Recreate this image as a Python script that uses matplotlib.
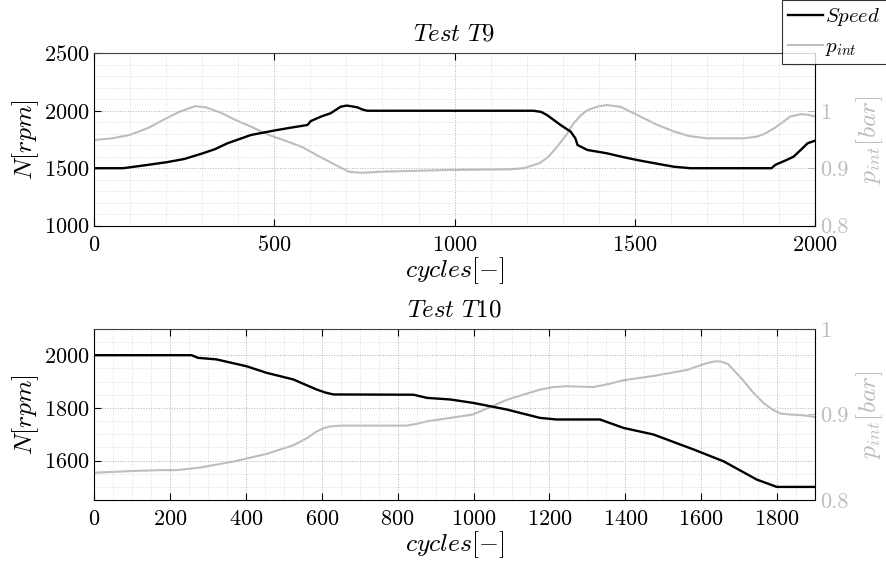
#!/usr/bin/env python3
"""Speed and intake pressure for tests T9 and T10"""
import matplotlib
matplotlib.use("Agg")
import matplotlib.pyplot as plt
from matplotlib.ticker import MultipleLocator

plt.rcParams["font.family"] = "serif"
plt.rcParams["font.serif"] = ["cmr10", "DejaVu Serif"]
plt.rcParams["mathtext.fontset"] = "cm"
plt.rcParams["axes.formatter.use_mathtext"] = True

GRAY = "#bdbdbd"

# Test T9
t9_speed_c = [0, 81, 140, 201, 250, 296, 335, 370, 400, 435, 470, 509, 550, 592, 601,
              630, 656, 684, 700, 712, 730, 745, 758, 1000, 1219, 1240, 1256, 1275,
              1294, 1322, 1335, 1341, 1368, 1422, 1470, 1515, 1560, 1608, 1654, 1879,
              1890, 1921, 1940, 1960, 1979, 2000]
t9_speed = [1500, 1500, 1525, 1552, 1580, 1624, 1665, 1717, 1750, 1789, 1810, 1833,
            1855, 1876, 1910, 1950, 1978, 2035, 2045, 2040, 2030, 2010, 2000, 2000,
            2000, 1990, 1963, 1920, 1876, 1818, 1760, 1702, 1659, 1630, 1595, 1566,
            1540, 1513, 1500, 1500, 1530, 1572, 1600, 1659, 1717, 1740]
t9_p_c = [0, 50, 100, 150, 201, 240, 281, 310, 350, 392, 440, 484, 530, 577, 620,
          669, 690, 706, 740, 800, 988, 1150, 1191, 1237, 1260, 1284, 1310, 1330, 1350,
          1368, 1395, 1422, 1460, 1515, 1560, 1608, 1650, 1700, 1800, 1839, 1860, 1885,
          1910, 1931, 1960, 1980, 2000]
t9_p = [0.949, 0.952, 0.958, 0.970, 0.987, 0.999, 1.008, 1.006, 0.997, 0.984, 0.971,
        0.958, 0.948, 0.937, 0.922, 0.906, 0.899, 0.894, 0.892, 0.894, 0.897, 0.898,
        0.900, 0.909, 0.920, 0.937, 0.958, 0.978, 0.992, 1.001, 1.007, 1.010, 1.007,
        0.990, 0.976, 0.964, 0.956, 0.952, 0.952, 0.955, 0.960, 0.969, 0.980, 0.990,
        0.994, 0.993, 0.990]

# Test T10
t10_speed_c = [0, 257, 274, 323, 402, 455, 525, 586, 610, 631, 842, 877, 938, 999,
               1087, 1175, 1219, 1333, 1395, 1474, 1580, 1659, 1746, 1799, 1900]
t10_speed = [2000, 2000, 1990, 1984, 1958, 1933, 1908, 1870, 1858, 1851, 1850, 1838,
             1832, 1819, 1794, 1762, 1756, 1756, 1724, 1699, 1642, 1597, 1528, 1500,
             1500]
t10_p_c = [0, 104, 175, 219, 279, 367, 455, 525, 560, 586, 605, 622, 650, 675, 824,
           850, 877, 938, 999, 1040, 1087, 1130, 1175, 1210, 1245, 1315, 1350, 1395,
           1474, 1562, 1615, 1635, 1650, 1670, 1685, 1710, 1738, 1765, 1790, 1810, 1834,
           1870, 1900]
t10_p = [0.832, 0.834, 0.835, 0.835, 0.838, 0.845, 0.854, 0.864, 0.872, 0.880, 0.884,
         0.886, 0.887, 0.887, 0.887, 0.889, 0.892, 0.896, 0.900, 0.908, 0.917, 0.923,
         0.929, 0.932, 0.933, 0.932, 0.935, 0.940, 0.945, 0.952, 0.960, 0.962, 0.962,
         0.959, 0.952, 0.940, 0.925, 0.913, 0.905, 0.901, 0.900, 0.899, 0.897]


def panel(fig, rect, title, xc, speed, pc, p, xlim, ylim, plim, xmaj, xmin, ymin,
          yticks, pticks):
    ax = fig.add_axes(rect)
    ax.plot(xc, speed, color="black", lw=1.7, label=r"$Speed$", zorder=3)
    ax.set_xlim(*xlim)
    ax.set_ylim(*ylim)
    ax.xaxis.set_major_locator(MultipleLocator(xmaj))
    ax.xaxis.set_minor_locator(MultipleLocator(xmin))
    ax.set_yticks(yticks)
    ax.yaxis.set_minor_locator(MultipleLocator(ymin))
    ax.grid(True, which="major", ls=":", lw=0.7, color="#b0b0b0")
    ax.grid(True, which="minor", ls=":", lw=0.6, color="#d6d6d6")
    ax.tick_params(which="major", direction="in", length=5, top=True, labelsize=16)
    ax.tick_params(axis="x", pad=7)
    ax.tick_params(which="minor", length=0)
    ax.set_xlabel(r"$cycles[-]$", fontsize=18.5, labelpad=0)
    ax.set_ylabel(r"$N[rpm]$", fontsize=18.5, labelpad=2)
    ax.set_title(title, fontsize=18, pad=9)
    ax.spines["top"].set_color("#404040")

    ax2 = ax.twinx()
    ax2.plot(pc, p, color=GRAY, lw=1.5, label=r"$p_{int}$")
    ax2.set_ylim(*plim)
    ax2.set_yticks(pticks)
    ax2.set_yticklabels([f"{v:g}" for v in pticks])
    ax2.tick_params(direction="in", length=5, colors=GRAY, labelsize=16)
    ax2.spines["right"].set_color(GRAY)
    ax2.spines["left"].set_visible(False)
    ax2.spines["top"].set_visible(False)
    ax2.spines["bottom"].set_visible(False)
    ax2.set_ylabel(r"$p_{int}[bar]$", fontsize=18.5, color=GRAY, labelpad=4)
    ax.set_zorder(ax2.get_zorder() + 1)
    ax.patch.set_visible(False)
    return ax, ax2


fig = plt.figure(figsize=(8.87, 5.67), dpi=100)

ax, ax2 = panel(fig, [0.106, 0.602, 0.813, 0.304], r"$Test\ T9$",
                t9_speed_c, t9_speed, t9_p_c, t9_p,
                (0, 2000), (1000, 2500), (0.8, 1.1), 500, 100, 100,
                [1000, 1500, 2000, 2500], [0.8, 0.9, 1.0])
panel(fig, [0.106, 0.118, 0.813, 0.302], r"$Test\ T10$",
      t10_speed_c, t10_speed, t10_p_c, t10_p,
      (0, 1900), (1450, 2100), (0.8, 1.0), 200, 50, 50,
      [1600, 1800, 2000], [0.8, 0.9, 1.0])

h1, l1 = ax.get_legend_handles_labels()
h2, l2 = ax2.get_legend_handles_labels()
leg = fig.legend(h1 + h2, l1 + l2, loc="upper right", bbox_to_anchor=(1.0, 1.0),
                 fontsize=15, frameon=True, fancybox=False, edgecolor="black",
                 handlelength=1.7, handletextpad=0.1, borderpad=0.3,
                 labelspacing=0.45, borderaxespad=0)
leg.get_frame().set_linewidth(0.8)

fig.savefig("out.png", dpi=100)
plt.close(fig)
